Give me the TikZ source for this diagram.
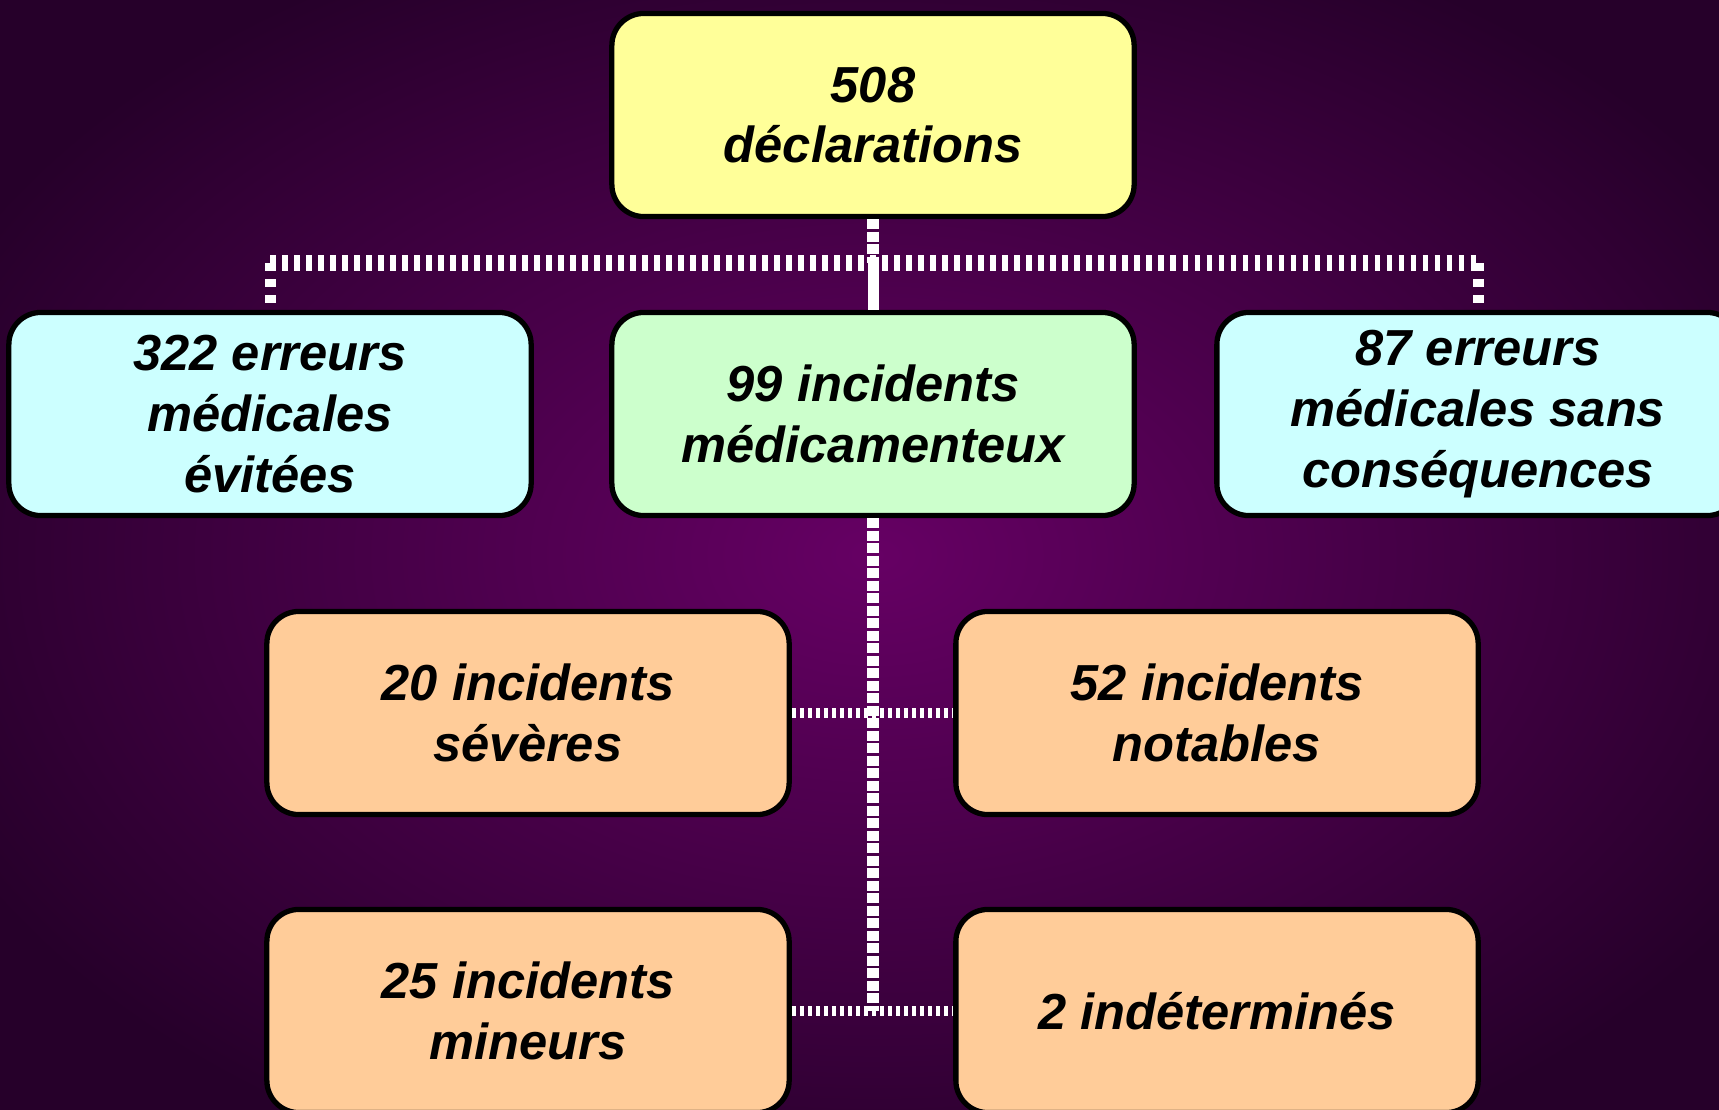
\documentclass[tikz,border=0pt]{standalone}
\usepackage{fontspec}
\setmainfont{Liberation Sans}
\usetikzlibrary{positioning, calc}

\definecolor{bgCenter}{HTML}{660064}
\definecolor{bgEdge}{HTML}{26002A}
\definecolor{boxYellow}{HTML}{FFFF99}
\definecolor{boxCyan}{HTML}{CCFFFF}
\definecolor{boxGreen}{HTML}{CCFFCC}
\definecolor{boxOrange}{HTML}{FFCC99}

\begin{document}
\begin{tikzpicture}[
  x=0.01cm, y=-0.01cm,
  box/.style={draw=black, line width=1.5pt, rounded corners=0.32cm,
    minimum width=5.22cm, minimum height=2.03cm, align=center,
    font=\fontsize{14.4}{17.3}\selectfont\bfseries\itshape, text=black},
  bus/.style={white, line width=0.16cm, dash pattern=on 0.055cm off 0.065cm},
  drop/.style={white, line width=0.11cm, dash pattern=on 0.08cm off 0.08cm},
  trunk/.style={white, line width=0.11cm},
  trunkdash/.style={white, line width=0.12cm, dash pattern=on 0.1cm off 0.025cm},
  branch/.style={white, line width=0.1cm, dash pattern=on 0.04cm off 0.04cm},
]

% background
\useasboundingbox (0,0) rectangle (1719,1109);
\clip (0,0) rectangle (1719,1109);
\shade[inner color=bgCenter, outer color=bgEdge] (-150,-120) rectangle (1900,1230);

% =========================
% Top level
% =========================
\node[box, fill=boxYellow] (decl) at (873,115) {508\\déclarations};

% =========================
% Second row
% =========================
\node[box, fill=boxCyan]  (evit) at (270,414)  {322 erreurs\\médicales\\évitées};
\node[box, fill=boxGreen] (medi) at (873,414)  {99 incidents\\médicamenteux};
\node[box, fill=boxCyan]  (sans) at (1478,414) {87 erreurs\\médicales sans\\conséquences};

% =========================
% Incidents (third and fourth row)
% =========================
\node[box, fill=boxOrange] (seve) at (528,713)   {20 incidents\\sévères};
\node[box, fill=boxOrange] (nota) at (1217,713)  {52 incidents\\notables};
\node[box, fill=boxOrange] (mine) at (528,1011)  {25 incidents\\mineurs};
\node[box, fill=boxOrange] (inde) at (1217,1011) {2 indéterminés};

% connectors top tree
\coordinate (bus) at (873,263);
\coordinate (busL) at (evit.north |- bus);
\coordinate (busR) at (sans.north |- bus);
\draw[trunkdash] (decl.south) -- (bus);
\draw[trunk] (bus) -- (medi.north);
\draw[bus] (busL) -- (busR);
\draw[drop] (busL) -- (evit.north);
\draw[drop] (busR) -- (sans.north);

% connectors incidents
\coordinate (foot) at (medi.south |- inde.west);
\draw[trunkdash] (medi.south) -- (foot);
\draw[branch] (seve.east) -- (nota.west);
\draw[branch] (mine.east) -- (inde.west);

\end{tikzpicture}
\end{document}
